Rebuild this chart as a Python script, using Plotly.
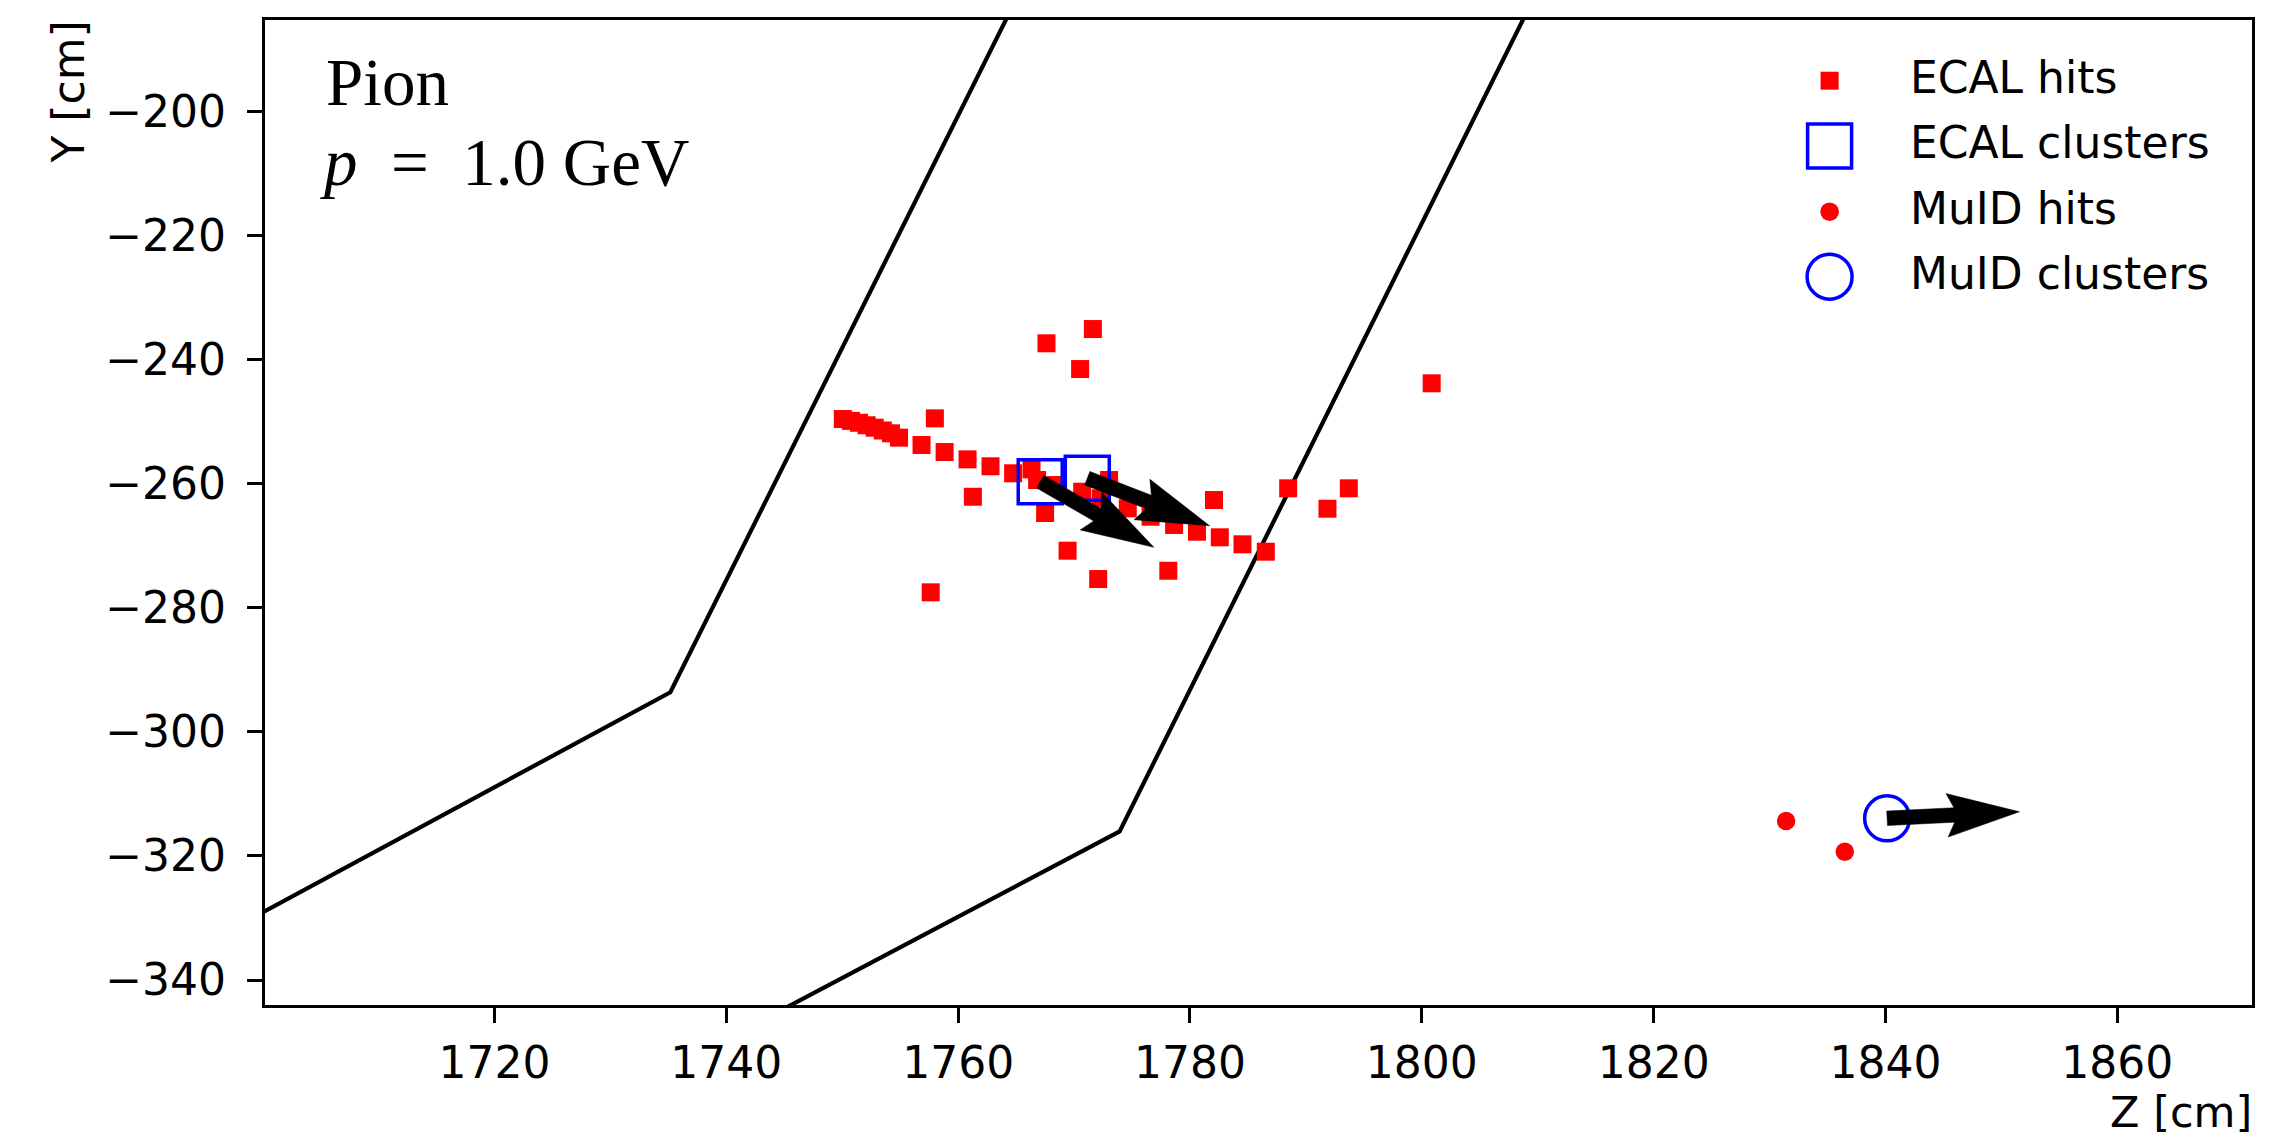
import math
import plotly.graph_objects as go

# ---------------- data ----------------
ecal_hit_z = [1750.05, 1750.75, 1751.45, 1752.10, 1752.80, 1753.50, 1754.20, 1754.90,
              1757.99, 1756.84, 1758.83, 1760.81, 1762.79, 1764.74, 1766.33, 1766.81,
              1761.27, 1768.40, 1767.50, 1771.62, 1767.62, 1770.52, 1800.85, 1770.70,
              1773.02, 1772.30, 1774.63, 1776.60, 1778.63, 1780.60, 1782.57, 1784.53,
              1786.54, 1782.07, 1788.47, 1793.70, 1791.86, 1769.44, 1778.13, 1772.08,
              1757.63]
ecal_hit_y = [-249.55, -249.85, -250.15, -250.55, -250.95, -251.40, -251.85, -252.55,
              -249.44, -253.74, -254.87, -256.05, -257.17, -258.30, -257.66, -259.38,
              -262.08, -260.19, -264.70, -235.04, -237.34, -241.49, -243.79, -261.27,
              -259.38, -262.33, -263.95, -265.30, -266.64, -267.72, -268.62, -269.75,
              -270.94, -262.61, -260.72, -260.72, -264.01, -270.78, -274.01, -275.35,
              -277.49]

ecal_cluster_z = [1767.08, 1771.14]
ecal_cluster_y = [-259.66, -259.09]

muid_hit_z = [1831.43, 1836.49]
muid_hit_y = [-314.37, -319.32]

muid_cluster_z = [1840.14]
muid_cluster_y = [-313.93]

# direction arrows: tail (cluster centre) and tip
arrow_tail_z = [1767.08, 1771.14, 1840.14]
arrow_tail_y = [-259.66, -259.09, -313.93]
arrow_tip_z = [1776.88, 1781.69, 1851.56]
arrow_tip_y = [-270.23, -266.75, -312.87]

# detector boundary lines
boundary1_z = [1699.0, 1735.17, 1765.5]
boundary1_y = [-330.1, -293.61, -180.0]
boundary2_z = [1744.5, 1773.93, 1810.1]
boundary2_y = [-345.1, -316.04, -180.0]

x_tick_vals = [1720, 1740, 1760, 1780, 1800, 1820, 1840, 1860]
x_tick_text = ["1720", "1740", "1760", "1780", "1800", "1820", "1840", "1860"]
y_tick_vals = [-200, -220, -240, -260, -280, -300, -320, -340]
y_tick_text = ["\u2212200", "\u2212220", "\u2212240", "\u2212260", "\u2212280",
               "\u2212300", "\u2212320", "\u2212340"]

legend_labels = ["ECAL hits", "ECAL clusters", "MuID hits", "MuID clusters"]

# ---------------- layout constants ----------------
FW, FH = 2295, 1139
ML, MR, MT, MB = 265, 43, 20, 134
PW, PH = FW - ML - MR, FH - MT - MB
X_RANGE = [1700.2, 1871.62]
Y_RANGE = [-344.03, -185.21]
SX = PW / (X_RANGE[1] - X_RANGE[0])
SY = PH / (Y_RANGE[1] - Y_RANGE[0])

SANS = "DejaVu Sans"
SERIF = "Liberation Serif"
FS = 44


def paper_x(px):
    return (px - ML) / PW


def paper_y(py):
    return (MT + PH - py) / PH


def arrow_polygon(z0, y0, z1, y1, w=14.5):
    dx = (z1 - z0) * SX
    dy = (y1 - y0) * SY
    L = math.hypot(dx, dy)
    ux, uy = dx / L, dy / L
    nx, ny = -uy, ux
    pts = [(0, -0.5 * w), (L - 4.5 * w, -0.5 * w), (L - 5 * w, -1.5 * w), (L, 0),
           (L - 5 * w, 1.5 * w), (L - 4.5 * w, 0.5 * w), (0, 0.5 * w), (0, -0.5 * w)]
    zs, ys = [], []
    for a, b in pts:
        zs.append(z0 + (a * ux + b * nx) / SX)
        ys.append(y0 + (a * uy + b * ny) / SY)
    return zs, ys


fig = go.Figure()

for bz, by in [(boundary1_z, boundary1_y), (boundary2_z, boundary2_y)]:
    fig.add_trace(go.Scatter(x=bz, y=by, mode="lines",
                             line=dict(color="black", width=4.2),
                             showlegend=False, hoverinfo="skip"))

fig.add_trace(go.Scatter(x=ecal_hit_z, y=ecal_hit_y, mode="markers", name="ECAL hits",
                         marker=dict(symbol="square", size=18, color="red",
                                     line=dict(width=0)),
                         showlegend=False))
fig.add_trace(go.Scatter(x=muid_hit_z, y=muid_hit_y, mode="markers", name="MuID hits",
                         marker=dict(symbol="circle", size=18.5, color="red",
                                     line=dict(width=0)),
                         showlegend=False))
fig.add_trace(go.Scatter(x=ecal_cluster_z, y=ecal_cluster_y, mode="markers",
                         name="ECAL clusters",
                         marker=dict(symbol="square-open", size=44, color="blue",
                                     line=dict(width=3.5, color="blue")),
                         showlegend=False))
fig.add_trace(go.Scatter(x=muid_cluster_z, y=muid_cluster_y, mode="markers",
                         name="MuID clusters",
                         marker=dict(symbol="circle-open", size=45, color="blue",
                                     line=dict(width=3.5, color="blue")),
                         showlegend=False))

for z0, y0, z1, y1 in zip(arrow_tail_z, arrow_tail_y, arrow_tip_z, arrow_tip_y):
    az, ay = arrow_polygon(z0, y0, z1, y1)
    fig.add_trace(go.Scatter(x=az, y=ay, mode="lines", fill="toself",
                             fillcolor="black", line=dict(color="black", width=0.5),
                             showlegend=False, hoverinfo="skip"))

# ---------------- custom legend ----------------
leg_marker_px = 1829.6
leg_text_px = 1907.5
leg_rows_py = [80.7, 146.0, 211.7, 276.7]
shapes = []
cx = paper_x(leg_marker_px)
# ECAL hits: filled square
shapes.append(dict(type="rect", xref="paper", yref="paper", xsizemode="pixel",
                   ysizemode="pixel", xanchor=cx, yanchor=paper_y(leg_rows_py[0]),
                   x0=-9, x1=9, y0=-9, y1=9, fillcolor="red", line=dict(width=0)))
# ECAL clusters: open square
shapes.append(dict(type="rect", xref="paper", yref="paper", xsizemode="pixel",
                   ysizemode="pixel", xanchor=cx, yanchor=paper_y(leg_rows_py[1]),
                   x0=-22, x1=22, y0=-22, y1=22, fillcolor="rgba(0,0,0,0)",
                   line=dict(color="blue", width=3.5)))
# MuID hits: filled circle
shapes.append(dict(type="circle", xref="paper", yref="paper", xsizemode="pixel",
                   ysizemode="pixel", xanchor=cx, yanchor=paper_y(leg_rows_py[2]),
                   x0=-9.3, x1=9.3, y0=-9.3, y1=9.3, fillcolor="red", line=dict(width=0)))
# MuID clusters: open circle
shapes.append(dict(type="circle", xref="paper", yref="paper", xsizemode="pixel",
                   ysizemode="pixel", xanchor=cx, yanchor=paper_y(leg_rows_py[3]),
                   x0=-22.5, x1=22.5, y0=-22.5, y1=22.5, fillcolor="rgba(0,0,0,0)",
                   line=dict(color="blue", width=3.5)))

annotations = []
for lab, py in zip(legend_labels, leg_rows_py):
    annotations.append(dict(text=lab, xref="paper", yref="paper",
                            x=paper_x(leg_text_px), y=paper_y(py - 3.2),
                            xanchor="left", yanchor="middle", showarrow=False,
                            font=dict(family=SANS, size=FS, color="black")))

# particle label
annotations.append(dict(text="Pion", xref="paper", yref="paper",
                        x=paper_x(324), y=paper_y(43.3), xanchor="left", yanchor="top",
                        showarrow=False, font=dict(family=SERIF, size=67, color="black")))
annotations.append(dict(text="<i>p</i>\u2002=\u20021.0 GeV", xref="paper", yref="paper",
                        x=paper_x(318), y=paper_y(122.6), xanchor="left", yanchor="top",
                        showarrow=False, font=dict(family=SERIF, size=67, color="black")))

# axis titles
annotations.append(dict(text="Z [cm]", xref="paper", yref="paper",
                        x=paper_x(2254), y=paper_y(1139), xanchor="right",
                        yanchor="bottom", showarrow=False,
                        font=dict(family=SANS, size=FS - 1, color="black")))
annotations.append(dict(text="Y [cm]", xref="paper", yref="paper", textangle=-90,
                        x=paper_x(67.5), y=paper_y(18.5), xanchor="center", yanchor="top",
                        showarrow=False, font=dict(family=SANS, size=FS, color="black")))

axis_common = dict(showgrid=False, zeroline=False, showline=True, mirror=True,
                   linecolor="black", linewidth=3.3, ticks="outside", ticklen=15,
                   tickwidth=3.3, tickcolor="black",
                   tickfont=dict(family=SANS, size=FS, color="black"))

fig.update_layout(
    width=FW, height=FH,
    margin=dict(l=ML, r=MR, t=MT, b=MB, autoexpand=False),
    paper_bgcolor="white", plot_bgcolor="white",
    showlegend=False,
    xaxis=dict(range=X_RANGE, tickmode="array", tickvals=x_tick_vals,
               ticktext=x_tick_text, ticklabelstandoff=2, **axis_common),
    yaxis=dict(range=Y_RANGE, tickmode="array", tickvals=y_tick_vals,
               ticktext=y_tick_text, ticklabelstandoff=12, **axis_common),
    shapes=shapes,
    annotations=annotations,
)

fig.write_html("out.html")
